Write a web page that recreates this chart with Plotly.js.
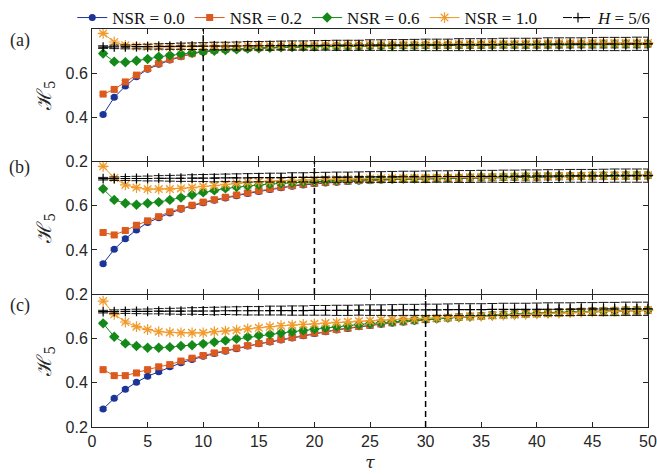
<!DOCTYPE html>
<html>
<head>
<meta charset="utf-8">
<script src="https://cdn.plot.ly/plotly-3.0.1.min.js"></script>
<style>html,body{margin:0;padding:0;background:#fff;}#chart{width:657px;height:475px;}</style>
</head>
<body>
<div id="chart"></div>
<script>
const tau = [1,2,3,4,5,6,7,8,9,10,11,12,13,14,15,16,17,18,19,20,21,22,23,24,25,26,27,28,29,30,31,32,33,34,35,36,37,38,39,40,41,42,43,44,45,46,47,48,49,50];

const seriesNames = ['NSR = 0.0', 'NSR = 0.2', 'NSR = 0.6', 'NSR = 1.0', '<i>H</i> = 5/6'];
const panelLabels = ['(a)', '(b)', '(c)'];
const cutoffs = [10, 20, 30];
const yTicks = [0.2, 0.4, 0.6];
const xTicks = [0,5,10,15,20,25,30,35,40,45,50];

// Panel (a)
const blueA = [0.412,0.490,0.541,0.583,0.618,0.640,0.659,0.674,0.688,0.697,0.703,0.707,0.710,0.712,0.714,0.716,0.717,0.718,0.719,0.720,0.721,0.721,0.722,0.722,0.723,0.723,0.724,0.724,0.724,0.725,0.725,0.725,0.726,0.726,0.726,0.727,0.727,0.727,0.727,0.728,0.728,0.728,0.728,0.729,0.729,0.729,0.729,0.730,0.730,0.730];
const redA = [0.505,0.526,0.560,0.591,0.621,0.644,0.662,0.676,0.688,0.698,0.704,0.708,0.711,0.713,0.715,0.717,0.718,0.719,0.720,0.721,0.722,0.722,0.723,0.723,0.724,0.724,0.725,0.725,0.725,0.726,0.726,0.726,0.727,0.727,0.727,0.728,0.728,0.728,0.728,0.729,0.729,0.729,0.730,0.730,0.730,0.730,0.731,0.731,0.731,0.731];
const greenA = [0.689,0.652,0.649,0.656,0.664,0.674,0.681,0.687,0.692,0.697,0.701,0.705,0.708,0.711,0.713,0.715,0.717,0.718,0.719,0.720,0.721,0.722,0.723,0.723,0.724,0.724,0.725,0.725,0.726,0.726,0.727,0.727,0.727,0.728,0.728,0.728,0.729,0.729,0.729,0.730,0.730,0.730,0.731,0.731,0.731,0.732,0.732,0.732,0.732,0.733];
const orangeA = [0.780,0.741,0.726,0.721,0.719,0.719,0.719,0.720,0.720,0.721,0.722,0.722,0.723,0.723,0.724,0.724,0.725,0.725,0.726,0.726,0.727,0.727,0.728,0.728,0.729,0.729,0.729,0.730,0.730,0.731,0.731,0.731,0.732,0.732,0.732,0.733,0.733,0.733,0.734,0.734,0.734,0.735,0.735,0.735,0.736,0.736,0.736,0.737,0.737,0.737];
const blackA = [0.718,0.719,0.719,0.720,0.720,0.721,0.721,0.722,0.722,0.722,0.723,0.723,0.723,0.724,0.724,0.724,0.725,0.725,0.725,0.725,0.726,0.726,0.726,0.726,0.727,0.727,0.727,0.727,0.728,0.728,0.728,0.728,0.729,0.729,0.729,0.729,0.730,0.730,0.730,0.730,0.731,0.731,0.731,0.731,0.732,0.732,0.732,0.732,0.733,0.733];

// Panel (b)
const blueB = [0.338,0.403,0.451,0.491,0.524,0.546,0.567,0.585,0.600,0.614,0.625,0.636,0.646,0.656,0.665,0.674,0.682,0.689,0.695,0.700,0.704,0.707,0.710,0.713,0.715,0.717,0.719,0.720,0.721,0.722,0.723,0.724,0.725,0.726,0.727,0.728,0.729,0.730,0.730,0.731,0.732,0.732,0.733,0.734,0.734,0.735,0.735,0.736,0.736,0.737];
const redB = [0.479,0.468,0.488,0.512,0.532,0.551,0.573,0.588,0.603,0.617,0.628,0.639,0.649,0.659,0.668,0.677,0.685,0.692,0.698,0.703,0.707,0.710,0.713,0.715,0.717,0.719,0.721,0.722,0.723,0.724,0.725,0.726,0.727,0.728,0.729,0.730,0.730,0.731,0.732,0.732,0.733,0.734,0.734,0.735,0.735,0.736,0.736,0.737,0.737,0.738];
const greenB = [0.677,0.627,0.612,0.605,0.612,0.617,0.627,0.638,0.650,0.661,0.670,0.679,0.685,0.690,0.695,0.699,0.702,0.705,0.708,0.711,0.713,0.715,0.717,0.718,0.720,0.721,0.722,0.723,0.724,0.725,0.726,0.727,0.728,0.729,0.730,0.730,0.731,0.732,0.733,0.733,0.734,0.735,0.735,0.736,0.737,0.737,0.738,0.738,0.739,0.739];
const orangeB = [0.779,0.726,0.695,0.683,0.676,0.676,0.676,0.679,0.683,0.688,0.692,0.698,0.702,0.707,0.710,0.712,0.714,0.716,0.718,0.719,0.720,0.721,0.722,0.723,0.724,0.725,0.726,0.726,0.727,0.727,0.728,0.729,0.729,0.730,0.731,0.731,0.732,0.733,0.733,0.734,0.734,0.735,0.735,0.736,0.736,0.737,0.737,0.738,0.738,0.739];
const blackB = [0.723,0.723,0.724,0.724,0.724,0.725,0.725,0.725,0.726,0.726,0.726,0.727,0.727,0.727,0.728,0.728,0.728,0.729,0.729,0.729,0.730,0.730,0.730,0.731,0.731,0.731,0.731,0.732,0.732,0.732,0.733,0.733,0.733,0.733,0.734,0.734,0.734,0.734,0.735,0.735,0.735,0.735,0.736,0.736,0.736,0.736,0.737,0.737,0.737,0.737];

// Panel (c)
const blueC = [0.282,0.330,0.371,0.403,0.430,0.451,0.473,0.491,0.506,0.521,0.533,0.544,0.555,0.567,0.577,0.585,0.594,0.604,0.614,0.624,0.632,0.640,0.647,0.654,0.660,0.666,0.671,0.676,0.681,0.686,0.690,0.694,0.697,0.700,0.703,0.706,0.709,0.711,0.713,0.715,0.717,0.719,0.720,0.722,0.723,0.724,0.725,0.726,0.727,0.728];
const redC = [0.460,0.433,0.433,0.445,0.460,0.473,0.483,0.499,0.512,0.524,0.536,0.547,0.558,0.569,0.579,0.588,0.597,0.606,0.616,0.626,0.634,0.642,0.649,0.656,0.662,0.668,0.673,0.678,0.683,0.688,0.692,0.696,0.699,0.702,0.705,0.708,0.711,0.713,0.715,0.717,0.719,0.721,0.722,0.724,0.725,0.726,0.727,0.728,0.729,0.730];
const greenC = [0.670,0.609,0.579,0.567,0.559,0.559,0.562,0.567,0.571,0.577,0.585,0.592,0.600,0.608,0.615,0.620,0.626,0.632,0.638,0.644,0.650,0.655,0.660,0.665,0.669,0.673,0.677,0.681,0.685,0.689,0.692,0.695,0.698,0.701,0.704,0.707,0.709,0.711,0.713,0.715,0.717,0.719,0.721,0.722,0.724,0.725,0.726,0.728,0.729,0.730];
const orangeC = [0.771,0.711,0.676,0.655,0.642,0.632,0.629,0.627,0.627,0.627,0.632,0.635,0.639,0.645,0.650,0.655,0.659,0.662,0.665,0.668,0.671,0.674,0.677,0.680,0.682,0.685,0.687,0.689,0.691,0.693,0.695,0.697,0.699,0.701,0.703,0.705,0.707,0.709,0.711,0.713,0.715,0.717,0.719,0.721,0.722,0.724,0.725,0.727,0.728,0.730];
const blackC = [0.723,0.723,0.724,0.724,0.724,0.725,0.725,0.725,0.726,0.726,0.726,0.727,0.727,0.727,0.727,0.728,0.728,0.728,0.728,0.729,0.729,0.729,0.729,0.730,0.730,0.730,0.730,0.731,0.731,0.731,0.731,0.732,0.732,0.732,0.732,0.733,0.733,0.733,0.733,0.734,0.734,0.734,0.734,0.735,0.735,0.735,0.735,0.736,0.736,0.736];

// Error bar half-widths
const errNSR = [0.006,0.006,0.007,0.007,0.007,0.008,0.008,0.008,0.008,0.009,0.009,0.009,0.009,0.010,0.010,0.010,0.010,0.011,0.011,0.011,0.011,0.011,0.012,0.012,0.012,0.012,0.012,0.013,0.013,0.013,0.013,0.013,0.014,0.014,0.014,0.014,0.014,0.014,0.015,0.015,0.015,0.015,0.015,0.015,0.016,0.016,0.016,0.016,0.016,0.016];
const errH = [0.006,0.008,0.009,0.010,0.011,0.012,0.013,0.014,0.015,0.016,0.017,0.017,0.018,0.019,0.019,0.020,0.020,0.021,0.021,0.022,0.022,0.023,0.023,0.023,0.024,0.024,0.025,0.025,0.025,0.026,0.026,0.026,0.027,0.027,0.027,0.027,0.028,0.028,0.028,0.028,0.029,0.029,0.029,0.029,0.029,0.030,0.030,0.030,0.030,0.030];

const panels = [
  [blueA, redA, greenA, orangeA, blackA],
  [blueB, redB, greenB, orangeB, blackB],
  [blueC, redC, greenC, orangeC, blackC]
];

const colors = ['#1b3497', '#dc5a1e', '#15881a', '#f09a2a', '#000000'];
const errColors = ['rgba(27,52,151,0.55)', 'rgba(220,90,30,0.55)', 'rgba(21,136,26,0.55)', 'rgba(240,154,42,0.55)', 'rgba(0,0,0,0.9)'];
const symbols = ['circle', 'square', 'diamond', 'asterisk-open', 'cross-thin-open'];
const sizes = [7, 7, 8, 9, 7];
const errs = [errNSR, errNSR, errNSR, errNSR, errH];

const traces = [];
panels.forEach((series, p) => {
  const xa = p === 0 ? 'x' : 'x' + (p + 1);
  const ya = p === 0 ? 'y' : 'y' + (p + 1);
  series.forEach((vals, s) => {
    const isH = s === 4;
    traces.push({
      type: 'scatter',
      mode: 'lines+markers',
      x: tau,
      y: vals,
      xaxis: xa,
      yaxis: ya,
      name: seriesNames[s],
      legend: isH ? 'legend2' : 'legend',
      legendgroup: 'g' + s,
      showlegend: p === 0,
      cliponaxis: false,
      line: {color: colors[s], width: 1, dash: isH ? 'dash' : 'solid'},
      marker: {
        symbol: symbols[s], size: sizes[s], color: colors[s],
        line: {color: colors[s], width: (s === 3 || isH) ? 1.2 : 0}
      },
      error_y: {
        type: 'data', array: errs[s], visible: true,
        color: errColors[s], thickness: 1, width: isH ? 5 : 4
      }
    });
  });
});

const axisFont = {family: 'Liberation Sans, Arial, sans-serif', size: 16, color: '#262626'};
function xAxis(p) {
  return {
    range: [0, 50], tickvals: xTicks, ticks: 'inside', ticklen: 5, tickcolor: '#262626',
    mirror: 'ticks', showline: true, linecolor: '#262626', linewidth: 1,
    showgrid: false, zeroline: false, tickfont: axisFont,
    showticklabels: p === 2, anchor: p === 0 ? 'y' : 'y' + (p + 1),
    title: p === 2 ? {text: '<i>τ</i>', font: {family: 'DejaVu Serif, serif', size: 17, color: '#262626'}, standoff: 6} : undefined
  };
}
const domains = [[0.6675, 1], [0.334, 0.6665], [0, 0.3325]];
function yAxis(p) {
  return {
    domain: domains[p], range: [0.2, 0.8], tickvals: yTicks, tickformat: '.1f',
    ticks: 'inside', ticklen: 5, tickcolor: '#262626',
    mirror: 'ticks', showline: true, linecolor: '#262626', linewidth: 1,
    showgrid: false, zeroline: false, tickfont: axisFont,
    anchor: p === 0 ? 'x' : 'x' + (p + 1),
    title: {text: 'ℋ<sub>5</sub>', font: {family: 'DejaVu Serif, serif', size: 20, color: '#262626'}, standoff: 8}
  };
}

const shapes = cutoffs.map((c, p) => ({
  type: 'line', xref: p === 0 ? 'x' : 'x' + (p + 1), yref: p === 0 ? 'y' : 'y' + (p + 1),
  x0: c, x1: c, y0: 0.2, y1: 0.8,
  line: {color: '#000', width: 1.5, dash: '6px,4px'}
}));

const labelY = [0.972, 0.651, 0.3065];
const annotations = panelLabels.map((t, p) => ({
  text: t, xref: 'paper', yref: 'paper', x: -0.13, y: labelY[p],
  xanchor: 'center', yanchor: 'middle', showarrow: false,
  font: {family: 'Liberation Serif, serif', size: 18, color: '#262626'}
}));

const legendFont = {family: 'Liberation Serif, serif', size: 17, color: '#111'};
const layout = {
  width: 657, height: 475,
  margin: {l: 92, r: 9, t: 29, b: 48, autoexpand: false},
  paper_bgcolor: '#fff', plot_bgcolor: '#fff',
  showlegend: true,
  legend: {
    orientation: 'h', xref: 'container', yref: 'container', x: 0.11, y: 1.0,
    xanchor: 'left', yanchor: 'top', itemwidth: 30,
    font: legendFont, bgcolor: 'rgba(0,0,0,0)', tracegroupgap: 0
  },
  legend2: {
    orientation: 'h', xref: 'container', yref: 'container', x: 1.0, y: 1.0,
    xanchor: 'right', yanchor: 'top', itemwidth: 30,
    font: legendFont, bgcolor: 'rgba(0,0,0,0)', tracegroupgap: 0
  },
  xaxis: xAxis(0), xaxis2: xAxis(1), xaxis3: xAxis(2),
  yaxis: yAxis(0), yaxis2: yAxis(1), yaxis3: yAxis(2),
  shapes: shapes,
  annotations: annotations
};

Plotly.newPlot('chart', traces, layout, {displayModeBar: false, staticPlot: true});
</script>
</body>
</html>
